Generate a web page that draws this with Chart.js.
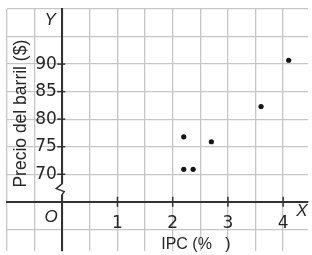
<!DOCTYPE html>
<html>
<head>
<meta charset="utf-8">
<script src="https://cdn.jsdelivr.net/npm/chart.js@4"></script>
<style>
  html, body { margin: 0; padding: 0; background: #fff; }
  #wrap { width: 312px; height: 255px; }
</style>
</head>
<body>
<div id="wrap"><canvas id="chart"></canvas></div>
<script>
// Scatter data: inflation (IPC %) vs oil barrel price ($)
const ipc = [2.2, 2.37, 2.2, 2.7, 3.6, 4.1];
const precio = [70.9, 70.9, 76.8, 75.9, 82.3, 90.7];

// Labelled ticks on each axis
const xTickLabels = [1, 2, 3, 4];
const yTickLabels = [70, 75, 80, 85, 90];

const FONT = '"Liberation Sans", Arial, sans-serif';
const NUMFONT = '"DejaVu Sans", sans-serif';
const INK = '#262626';
const GRID = '#c6c6c6';

// axes sit inside the plot, so they should not take any layout room
function noRoom(s) {
    if (s.isHorizontal()) s.height = 0; else s.width = 0;
    s.paddingTop = s.paddingBottom = s.paddingLeft = s.paddingRight = 0;
}

// Extra drawing: tick marks across the axes, axis letters, titles and the y break
const extras = {
    id: 'extras',
    afterDraw(chart) {
        const ctx = chart.ctx;
        const xs = chart.scales.x, ys = chart.scales.y;
        const x0 = xs.getPixelForValue(0);
        const y0 = ys.getPixelForValue(65);
        ctx.save();
        ctx.strokeStyle = '#333';
        ctx.lineWidth = 1.5;
        xTickLabels.forEach(v => {
            const px = xs.getPixelForValue(v);
            ctx.beginPath(); ctx.moveTo(px, y0 - 5); ctx.lineTo(px, y0 + 5); ctx.stroke();
        });
        yTickLabels.forEach(v => {
            const py = ys.getPixelForValue(v);
            ctx.beginPath(); ctx.moveTo(x0 - 5, py); ctx.lineTo(x0 + 3, py); ctx.stroke();
        });

        // axis break between 65 and 70
        const yb = ys.getPixelForValue(67.4);
        ctx.fillStyle = '#fff';
        ctx.fillRect(x0 - 2, yb - 5, 4, 11);
        ctx.beginPath();
        ctx.moveTo(x0, yb - 7);
        ctx.lineTo(x0, yb - 5);
        ctx.lineTo(x0 - 6, yb);
        ctx.lineTo(x0 + 2, yb + 3);
        ctx.lineTo(x0, yb + 6);
        ctx.lineTo(x0, yb + 8);
        ctx.stroke();

        ctx.fillStyle = INK;
        ctx.textAlign = 'center';
        ctx.textBaseline = 'middle';
        ctx.font = 'italic 17px ' + FONT;
        ctx.fillText('O', x0 - 11, y0 + 15);
        ctx.fillText('X', chart.chartArea.right - 6, y0 + 9);
        ctx.fillText('Y', x0 - 12, ys.getPixelForValue(98));

        ctx.font = '16px ' + FONT;
        ctx.fillText('IPC (%   )', xs.getPixelForValue(2.42), ys.getPixelForValue(57.2));

        ctx.font = '17.5px ' + FONT;
        ctx.textBaseline = 'alphabetic';
        ctx.translate(xs.getPixelForValue(-0.66), ys.getPixelForValue(81));
        ctx.rotate(-Math.PI / 2);
        ctx.fillText('Precio del barril ($)', 0, 0);
        ctx.restore();
    }
};

new Chart(document.getElementById('chart'), {
    type: 'scatter',
    data: {
        datasets: [{
            data: ipc.map((v, i) => ({ x: v, y: precio[i] })),
            backgroundColor: '#151515',
            borderWidth: 0,
            pointRadius: 2.6
        }]
    },
    options: {
        responsive: true,
        maintainAspectRatio: false,
        animation: false,
        layout: { padding: { left: 7, top: 9, right: 0, bottom: 0 } },
        plugins: {
            legend: { display: false },
            tooltip: { enabled: false }
        },
        scales: {
            x: {
                type: 'linear',
                min: -1,
                max: 4.45,
                position: { y: 65 },
                afterFit: noRoom,
                grid: { color: GRID, lineWidth: 1.3, drawTicks: false },
                border: { color: '#333', width: 2 },
                ticks: {
                    stepSize: 0.5,
                    includeBounds: false,
                    autoSkip: false,
                    maxRotation: 0,
                    padding: 12,
                    color: INK,
                    font: { family: NUMFONT, size: 17 },
                    callback: v => xTickLabels.includes(v) ? String(v) : ''
                }
            },
            y: {
                type: 'linear',
                min: 56.07,
                max: 100,
                position: { x: 0 },
                afterFit: noRoom,
                grid: { color: GRID, lineWidth: 1.3, drawTicks: false },
                border: { color: '#333', width: 2 },
                ticks: {
                    stepSize: 5,
                    includeBounds: false,
                    autoSkip: false,
                    color: INK,
                    font: { family: NUMFONT, size: 17 },
                    // trailing space keeps the label clear of the axis
                    callback: v => yTickLabels.includes(v) ? v + ' ' : ''
                }
            }
        }
    },
    plugins: [extras]
});
</script>
</body>
</html>
